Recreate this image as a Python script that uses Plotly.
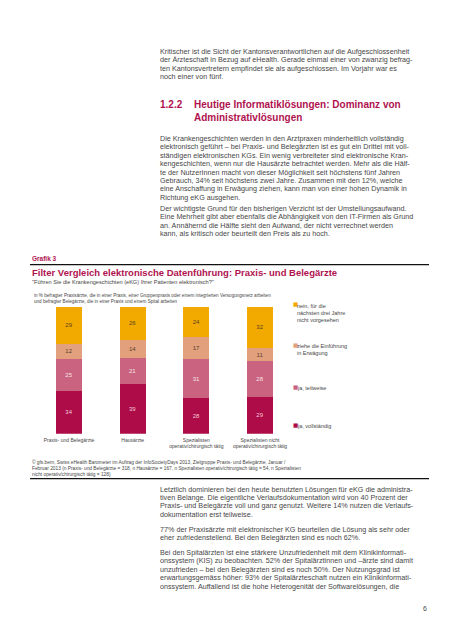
import plotly.graph_objects as go

W, H = 452, 640

# ---------------- data ----------------
categories = ["Praxis- und Belegärzte", "Hausärzte",
              "Spezialisten<br>operativ/chirurgisch tätig",
              "Spezialisten nicht<br>operativ/chirurgisch tätig"]
ja_vollstaendig = [34, 39, 28, 29]
ja_teilweise = [25, 21, 31, 28]
ziehe_einfuehrung = [12, 14, 17, 11]
nein_nicht_vorgesehen = [29, 26, 24, 32]

series_names = ["ja, vollständig", "ja, teilweise",
                "ziehe die Einführung<br>in Erwägung",
                "nein, für die<br>nächsten drei Jahre<br>nicht vorgesehen"]
series_values = [ja_vollstaendig, ja_teilweise, ziehe_einfuehrung, nein_nicht_vorgesehen]
series_colors = ["#AD0C48", "#C9637F", "#E2A07D", "#F2A900"]
label_colors = ["#F6C9D8", "#F8E3EA", "#5a4030", "#5a4020"]

FONT = "Liberation Sans"
TXT = "#464646"
RED = "#B0124F"

fig = go.Figure()
for name, vals, col, lc in zip(series_names, series_values, series_colors, label_colors):
    fig.add_trace(go.Bar(
        x=categories, y=vals, name=name, marker=dict(color=col, line=dict(width=0)),
        texttemplate="%{y}", textposition="inside", insidetextanchor="middle",
        textangle=0, constraintext="none",
        textfont=dict(family=FONT, size=6, color=lc),
        hoverinfo="skip", showlegend=False))

def px_x(x):
    return x / W

def px_y(y):
    return 1 - y / H

bar_left, bar_right = 29.2, 283.8
bar_bottom, bar_top = 425.7, 299.0

fig.update_layout(
    width=W, height=H, margin=dict(l=0, r=0, t=0, b=0),
    paper_bgcolor="white", plot_bgcolor="white",
    barmode="stack", bargap=0.59,
    font=dict(family=FONT, color=TXT),
    xaxis=dict(domain=[px_x(bar_left), px_x(bar_right)], showgrid=False, zeroline=False,
               showline=False, ticks="", tickfont=dict(family=FONT, size=5, color=TXT),
               ticklabelstandoff=2, fixedrange=True),
    yaxis=dict(domain=[px_y(bar_bottom), px_y(bar_top)], range=[0, 100], visible=False,
               fixedrange=True),
)

ann = []

def text(x, y, s, size=7.2, color=TXT, bold=False, anchor="left"):
    ann.append(dict(x=px_x(x), y=px_y(y), xref="paper", yref="paper", text=s,
                    showarrow=False, xanchor=anchor, yanchor="middle", align="left",
                    font=dict(family=FONT, size=size, color=color,
                              weight="bold" if bold else "normal")))

def para(lines, y0, x=150, step=8.4, size=7.2):
    for i, l in enumerate(lines):
        text(x, y0 + i * step, l, size=size)

para(["Kritischer ist die Sicht der Kantonsverantwortlichen auf die Aufgeschlossenheit",
      "der Ärzteschaft in Bezug auf eHealth. Gerade einmal einer von zwanzig befrag-",
      "ten Kantonsvertretern empfindet sie als aufgeschlossen. Im Vorjahr war es",
      "noch einer von fünf."], 43.3)

text(150, 96.7, "1.2.2", size=10, color=RED, bold=True)
text(184, 96.7, "Heutige Informatiklösungen: Dominanz von", size=10, color=RED, bold=True)
text(184, 109.2, "Administrativlösungen", size=10, color=RED, bold=True)

para(["Die Krankengeschichten werden in den Arztpraxen minderheitlich vollständig",
      "elektronisch geführt – bei Praxis- und Belegärzten ist es gut ein Drittel mit voll-",
      "ständigen elektronischen KGs. Ein wenig verbreiteter sind elektronische Kran-",
      "kengeschichten, wenn nur die Hausärzte betrachtet werden. Mehr als die Hälf-",
      "te der NutzerInnen macht von dieser Möglichkeit seit höchstens fünf Jahren",
      "Gebrauch, 34% seit höchstens zwei Jahre. Zusammen mit den 12%, welche",
      "eine Anschaffung in Erwägung ziehen, kann man von einer hohen Dynamik in",
      "Richtung eKG ausgehen."], 130.5)

para(["Der wichtigste Grund für den bisherigen Verzicht ist der Umstellungsaufwand.",
      "Eine Mehrheit gibt aber ebenfalls die Abhängigkeit von den IT-Firmen als Grund",
      "an. Annähernd die Hälfte sieht den Aufwand, der nicht verrechnet werden",
      "kann, als kritisch oder beurteilt den Preis als zu hoch."], 200.5)

text(22, 250, "Grafik 3", size=6.5, color=RED, bold=True)
text(22, 264, "Filter Vergleich elektronische Datenführung: Praxis- und Belegärzte",
     size=9.5, color=RED, bold=True)
text(22, 274.3, "\"Führen Sie die Krankengeschichten (eKG) Ihrer Patienten elektronisch?\"",
     size=5.6)
text(24, 287.3, "in % befragter Praxisärzte, die in einer Praxis, einer Gruppenpraxis oder einem "
     "integrierten Versogungsnetz arbeiten", size=4.6)
text(24, 293.6, "und befragter Belegärzte, die in einer Praxis und einem Spital arbeiten", size=4.6)

# legend (text annotations)
legend_y = [416.7, 378.7, 336.7, 296.0]
for name, col, ly in zip(series_names, series_colors, legend_y):
    ann.append(dict(x=px_x(282.5), y=px_y(ly), xref="paper", yref="paper", text="■",
                    showarrow=False, xanchor="left", yanchor="middle",
                    font=dict(family="DejaVu Sans", size=5.5, color=col)))
    ann.append(dict(x=px_x(286.5), y=px_y(ly - 3.3), xref="paper", yref="paper", text=name,
                    showarrow=False, xanchor="left", yanchor="top", align="left",
                    font=dict(family=FONT, size=5.5, color=TXT)))

src = ["© gfs.bern, Swiss eHealth Barometer im Auftrag der InfoSocietyDays 2013, Zielgruppe Praxis- und Belegärzte, Januar /",
       "Februar 2013 (n Praxis- und Belegärzte = 318, n Hausärzte = 167, n Spezialisten operativ/chirurgisch tätig = 54, n Spezialisten",
       "nicht operativ/chirurgisch tätig = 128)"]
for i, l in enumerate(src):
    text(22, 454 + i * 6.1, l, size=4.8)

para(["Letztlich dominieren bei den heute benutzten Lösungen für eKG die administra-",
      "tiven Belange. Die eigentliche Verlaufsdokumentation wird von 40 Prozent der",
      "Praxis- und Belegärzte voll und ganz genutzt. Weitere 14% nutzen die Verlaufs-",
      "dokumentation erst teilweise."], 481)

para(["77% der Praxisärzte mit elektronischer KG beurteilen die Lösung als sehr oder",
      "eher zufriedenstellend. Bei den Belegärzten sind es noch 62%."], 521.5)

para(["Bei den Spitalärzten ist eine stärkere Unzufriedenheit mit dem Klinikinformati-",
      "onssystem (KIS) zu beobachten. 52% der Spitalärztinnen und –ärzte sind damit",
      "unzufrieden – bei den Belegärzten sind es noch 50%. Der Nutzungsgrad ist",
      "erwartungsgemäss höher: 93% der Spitalärzteschaft nutzen ein Klinikinformati-",
      "onssystem. Auffallend ist die hohe Heterogenität der Softwarelösungen, die"], 544.5)

text(421, 600, "6", size=7, anchor="right")

fig.update_layout(annotations=ann)

fig.add_shape(type="line", xref="paper", yref="paper", x0=px_x(22), x1=px_x(421),
              y0=px_y(256.7), y1=px_y(256.7), line=dict(color="#111", width=1.2))
fig.add_shape(type="line", xref="paper", yref="paper", x0=px_x(22), x1=px_x(421),
              y0=px_y(470.7), y1=px_y(470.7), line=dict(color="#111", width=1.2))

fig.write_html("out.html", config={"displayModeBar": False})
